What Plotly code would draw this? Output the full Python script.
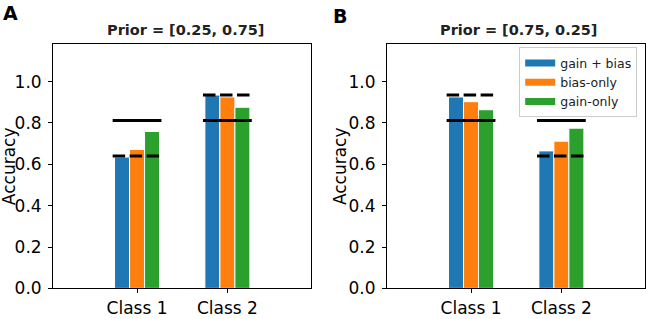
import plotly.graph_objects as go

# ---- data ----
classes = ["Class 1", "Class 2"]
series_names = ["gain + bias", "bias-only", "gain-only"]
series_colors = ["#1f77b4", "#ff7f0e", "#2ca02c"]

# Panel A: Prior = [0.25, 0.75]
a_gain_bias = [0.635, 0.935]
a_bias_only = [0.672, 0.926]
a_gain_only = [0.759, 0.876]
a_solid = [0.8125, 0.8125]
a_dashed = [0.640, 0.935]

# Panel B: Prior = [0.75, 0.25]
b_gain_bias = [0.926, 0.665]
b_bias_only = [0.903, 0.712]
b_gain_only = [0.864, 0.775]
b_solid = [0.8125, 0.8125]
b_dashed = [0.935, 0.640]

y_ticks = [0.0, 0.2, 0.4, 0.6, 0.8, 1.0]
titles = ["Prior = [0.25, 0.75]", "Prior = [0.75, 0.25]"]
panel_letters = ["A", "B"]

# ---- layout constants ----
W, H = 646, 319
FONT = "DejaVu Sans"
bar_w = 0.166
line_half = 0.27
xs = list(range(len(classes)))

fig = go.Figure()

panels = [
    ("x", "y", [a_gain_bias, a_bias_only, a_gain_only], a_solid, a_dashed),
    ("x2", "y2", [b_gain_bias, b_bias_only, b_gain_only], b_solid, b_dashed),
]

for p, (xa, ya, series, solid, dashed) in enumerate(panels):
    for k, (name, col, vals) in enumerate(zip(series_names, series_colors, series)):
        fig.add_trace(go.Bar(
            x=xs, y=vals, name=name, xaxis=xa, yaxis=ya,
            width=bar_w, offset=(k - 1.5) * bar_w,
            marker=dict(color=col, line=dict(color="white", width=1)),
            showlegend=False, legendgroup=name,
        ))
    for vals, dash in ((solid, "solid"), (dashed, "12.5px,4.5px")):
        lx, ly = [], []
        for c, v in zip(xs, vals):
            lx += [c - line_half, c + line_half, None]
            ly += [v, v, None]
        fig.add_trace(go.Scatter(
            x=lx, y=ly, mode="lines", xaxis=xa, yaxis=ya,
            line=dict(color="black", width=3, dash=dash),
            showlegend=False, hoverinfo="skip",
        ))

# legend entries (patch-like swatches), only shown in panel B
for name, col in zip(series_names, series_colors):
    fig.add_trace(go.Scatter(
        x=[None], y=[None], mode="lines", name=name, xaxis="x2", yaxis="y2",
        line=dict(color=col, width=7), legendgroup=name, showlegend=True,
    ))

xr = [-0.93, 1.92]
yr = [0, 1.184]
ydom = [21.3 / H, 274 / H]

axis_common = dict(
    showline=True, mirror=True, linecolor="black", linewidth=1,
    ticks="outside", ticklen=4, tickcolor="black", tickwidth=1,
    showgrid=False, zeroline=False,
    tickfont=dict(family=FONT, size=17, color="black"),
)

fig.update_layout(
    width=W, height=H,
    margin=dict(l=0, r=0, t=0, b=0),
    paper_bgcolor="white", plot_bgcolor="white",
    barmode="overlay",
    font=dict(family=FONT, color="black"),
    xaxis=dict(domain=[53.1 / W, 311 / W], range=xr, tickvals=xs, ticktext=classes,
               anchor="y", **axis_common),
    yaxis=dict(domain=ydom, range=yr, tickvals=y_ticks, tickformat=".1f",
               anchor="x", ticklabelstandoff=3, **axis_common),
    xaxis2=dict(domain=[387.6 / W, 645.5 / W], range=xr, tickvals=xs, ticktext=classes,
                anchor="y2", **axis_common),
    yaxis2=dict(domain=ydom, range=yr, tickvals=y_ticks, tickformat=".1f",
                anchor="x2", ticklabelstandoff=3, **axis_common),
    legend=dict(
        x=520 / W, xanchor="left", y=(H - 49) / H, yanchor="top",
        bgcolor="white", bordercolor="#cccccc", borderwidth=1,
        font=dict(family=FONT, size=12.5, color="#222222"),
        tracegroupgap=0, itemwidth=30,
    ),
)

annotations = []
title_cx = [186, 519.3]
letter_pos = [(11, 13.5), (341, 16.5)]
ylabel_x = [8.5, 340]
for i in range(2):
    annotations.append(dict(
        text="<b>%s</b>" % titles[i], x=title_cx[i] / W, y=(H - 31) / H,
        xref="paper", yref="paper", xanchor="center", yanchor="middle",
        showarrow=False, font=dict(family=FONT, size=14.5, color="#222222"),
    ))
    annotations.append(dict(
        text="<b>%s</b>" % panel_letters[i], x=letter_pos[i][0] / W, y=(H - letter_pos[i][1]) / H,
        xref="paper", yref="paper", xanchor="center", yanchor="middle",
        showarrow=False, font=dict(family=FONT, size=19, color="black"),
    ))
    annotations.append(dict(
        text="Accuracy", x=ylabel_x[i] / W, y=(H - 171) / H, textangle=-90,
        xref="paper", yref="paper", xanchor="center", yanchor="middle",
        showarrow=False, font=dict(family=FONT, size=17, color="black"),
    ))
fig.update_layout(annotations=annotations)

fig.write_html(
    "out.html",
    config={"displayModeBar": False},
    post_script="document.body.style.margin='0';document.body.style.overflow='hidden';",
)
